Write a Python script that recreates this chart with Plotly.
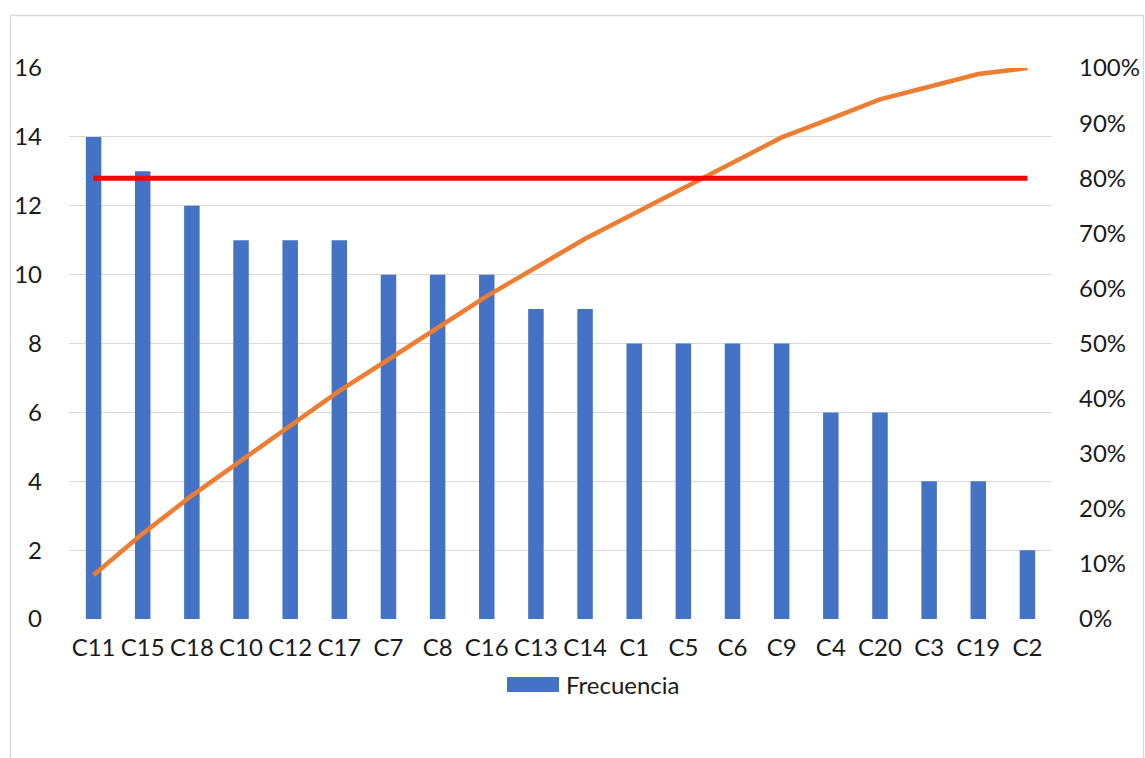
import plotly.graph_objects as go

# Pareto data: categories sorted by frequency
categories = ["C11", "C15", "C18", "C10", "C12", "C17", "C7", "C8", "C16", "C13",
              "C14", "C1", "C5", "C6", "C9", "C4", "C20", "C3", "C19", "C2"]
frecuencia = [14, 13, 12, 11, 11, 11, 10, 10, 10, 9, 9, 8, 8, 8, 8, 6, 6, 4, 4, 2]
acumulado_pct = [0.080, 0.155, 0.224, 0.287, 0.351, 0.414, 0.471, 0.529, 0.586, 0.638,
                 0.690, 0.736, 0.782, 0.828, 0.874, 0.908, 0.943, 0.966, 0.989, 1.000]
umbral_pct = [0.80] * len(categories)

left_ticks = [0, 2, 4, 6, 8, 10, 12, 14, 16]
right_ticks = [0, 0.1, 0.2, 0.3, 0.4, 0.5, 0.6, 0.7, 0.8, 0.9, 1.0]

FONT = "Lato, Carlito, Calibri, sans-serif"
W, H = 1145, 758
ML, MR, MT, MB = 69, 93, 68, 139
PW, PH = W - ML - MR, H - MT - MB


def px_x(x):
    return (x - ML) / PW


def px_y(y):
    return (H - MB - y) / PH


fig = go.Figure()
fig.add_trace(go.Bar(
    x=categories, y=frecuencia, name="Frecuencia",
    marker=dict(color="#4472C4", line=dict(width=0)),
    showlegend=False,
))
fig.add_trace(go.Scatter(
    x=categories, y=acumulado_pct, yaxis="y2", mode="lines",
    line=dict(color="#ED7D31", width=4.5), showlegend=False,
))
fig.add_trace(go.Scatter(
    x=categories, y=umbral_pct, yaxis="y2", mode="lines",
    line=dict(color="#FF0000", width=5), showlegend=False,
))

fig.update_layout(
    width=W, height=H,
    margin=dict(l=ML, r=MR, t=MT, b=MB, autoexpand=False),
    paper_bgcolor="white", plot_bgcolor="white",
    font=dict(family=FONT, size=24, color="#1a1a1a"),
    bargap=0.685,
    xaxis=dict(
        type="category", showgrid=False, showline=False, zeroline=False,
        ticks="", tickfont=dict(size=24), ticklabelstandoff=12,
        automargin=False,
    ),
    yaxis=dict(
        range=[0, 16], tickvals=left_ticks, showgrid=True,
        gridcolor="#d9d9d9", gridwidth=1.3, zeroline=False, showline=False,
        ticks="", ticklabelstandoff=26, automargin=False,
    ),
    yaxis2=dict(
        range=[0, 1], tickvals=right_ticks, tickformat=".0%",
        overlaying="y", side="right", showgrid=False, zeroline=False,
        showline=False, ticks="", ticklabelstandoff=26, automargin=False,
    ),
    shapes=[
        # chart frame
        dict(type="rect", xref="paper", yref="paper",
             x0=px_x(10.5), x1=px_x(1143.5), y0=px_y(770), y1=px_y(15.5),
             line=dict(color="#d9d9d9", width=1.3), fillcolor="rgba(0,0,0,0)",
             layer="below"),
        # legend swatch
        dict(type="rect", xref="paper", yref="paper",
             x0=px_x(507), x1=px_x(559), y0=px_y(692), y1=px_y(677),
             line=dict(width=0), fillcolor="#4472C4"),
    ],
    annotations=[
        dict(text="Frecuencia", xref="paper", yref="paper",
             x=px_x(564), y=px_y(684.5), xanchor="left", yanchor="middle",
             showarrow=False, font=dict(size=24, family=FONT, color="#1a1a1a")),
    ],
)

fig.write_html("out.html")
